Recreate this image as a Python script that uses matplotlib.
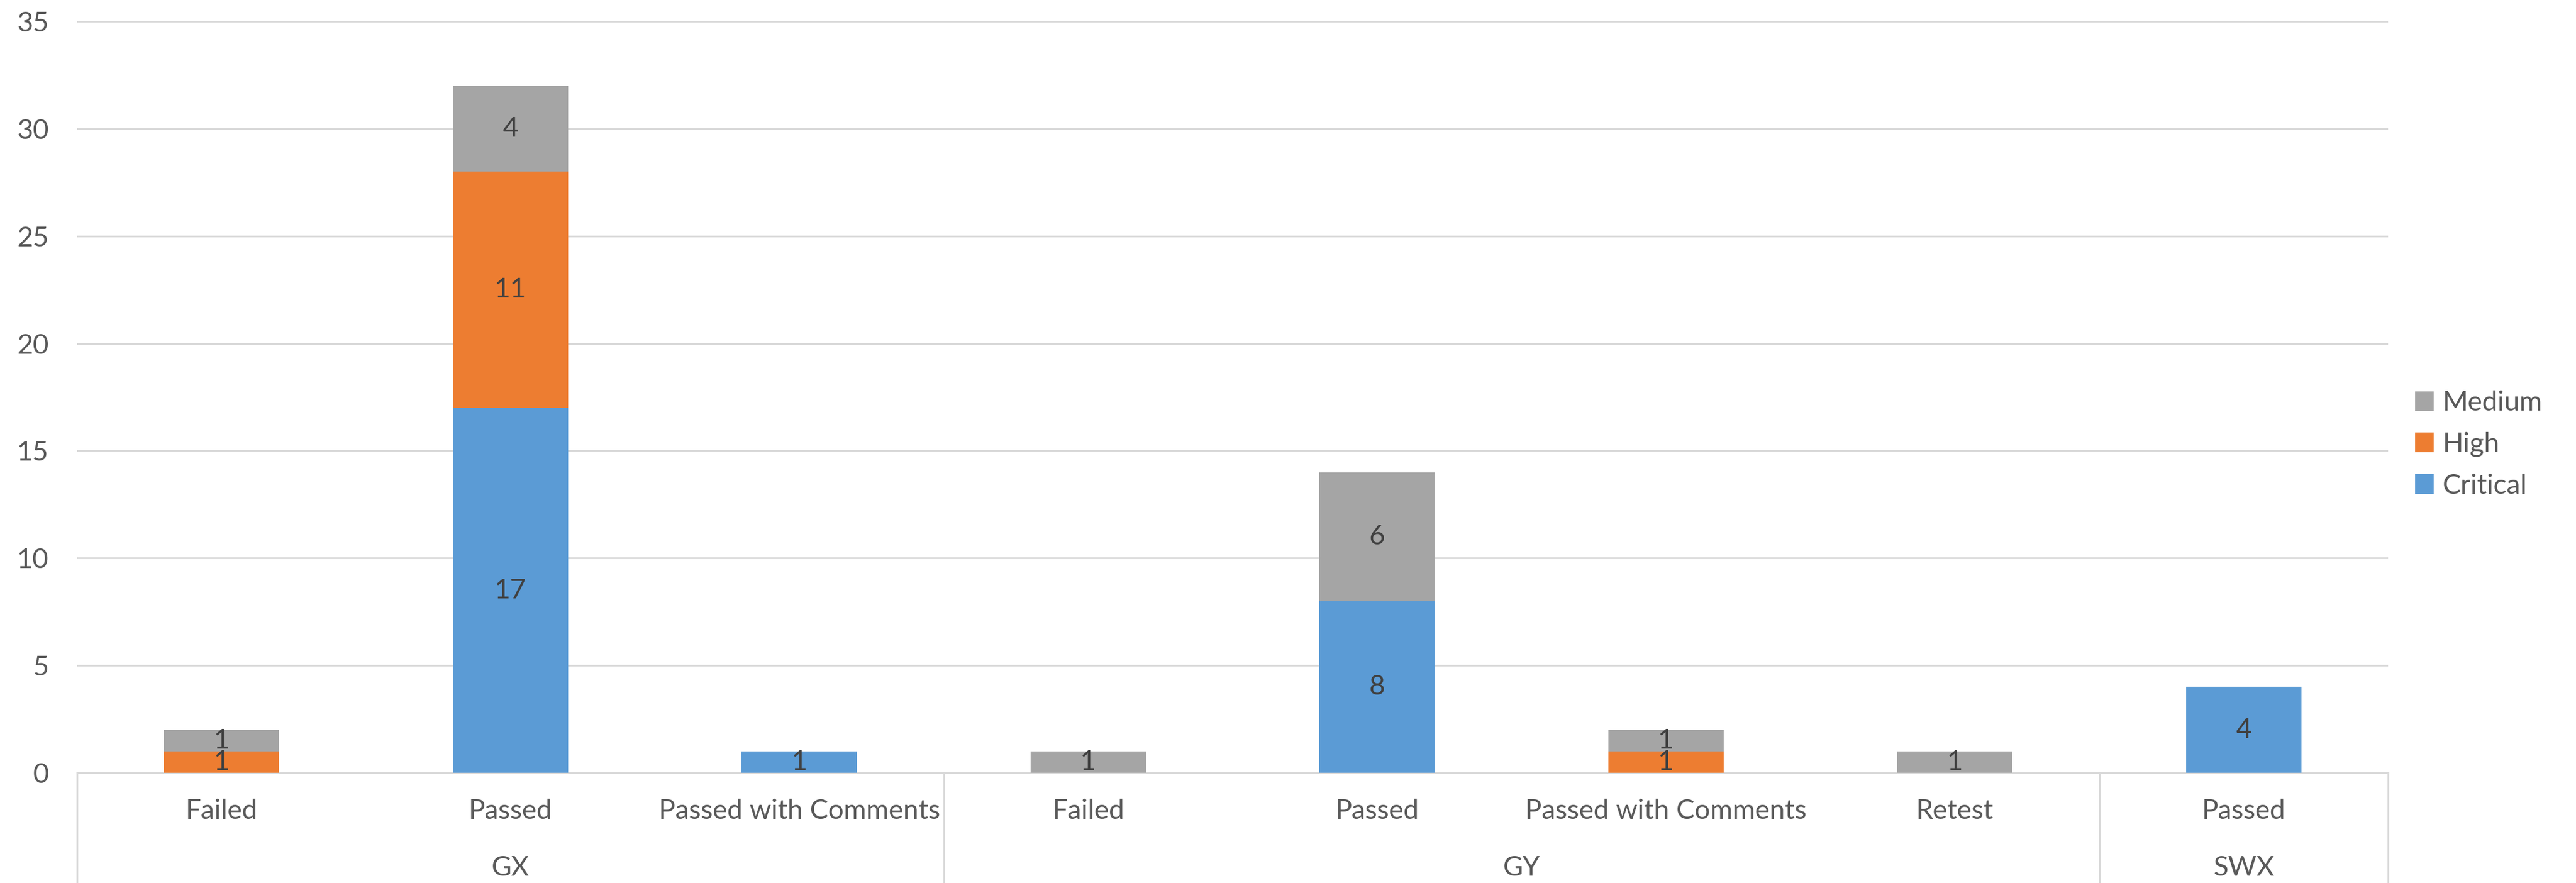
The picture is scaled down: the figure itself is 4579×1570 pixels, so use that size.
import matplotlib
matplotlib.use("Agg")
import matplotlib.pyplot as plt
import matplotlib.patches as mpatches
import numpy as np

plt.rcParams['font.family'] = ['Lato', 'DejaVu Sans']

groups = ["GX", "GY", "SWX"]
group_sizes = [3, 4, 1]
categories = ["Failed", "Passed", "Passed with Comments",
              "Failed", "Passed", "Passed with Comments", "Retest",
              "Passed"]
critical = [0, 17, 1, 0, 8, 0, 0, 4]
high = [1, 11, 0, 0, 0, 1, 0, 0]
medium = [1, 4, 0, 1, 6, 1, 1, 0]
series_names = ["Critical", "High", "Medium"]
series_colors = ["#5B9BD5", "#ED7D31", "#A5A5A5"]
yticks = [0, 5, 10, 15, 20, 25, 30, 35]

W, H, DPI = 4579, 1570, 300
fig = plt.figure(figsize=(W / DPI, H / DPI), dpi=DPI)
ax_left, ax_right = 137 / W, 4245 / W
ax_bottom, ax_top = (H - 1374) / H, (H - 38) / H
ax = fig.add_axes([ax_left, ax_bottom, ax_right - ax_left, ax_top - ax_bottom])

x = np.arange(len(categories))
bottom = np.zeros(len(categories))
fs = 11.7
for vals, name, col in zip([critical, high, medium], series_names, series_colors):
    vals = np.array(vals, dtype=float)
    ax.bar(x, vals, width=0.4, bottom=bottom, color=col, label=name, zorder=3)
    for xi, v, b in zip(x, vals, bottom):
        if v > 0:
            ax.text(xi, b + v / 2, f"{int(v)}", ha="center", va="center",
                    fontsize=fs, color="#404040", zorder=4)
    bottom += vals

ax.set_xlim(-0.5, len(categories) - 0.5)
ax.set_ylim(0, 35)
ax.set_yticks(yticks)
ax.set_yticklabels([str(t) for t in yticks])
ax.tick_params(axis="y", length=0, pad=12, labelsize=fs, labelcolor="#595959")
ax.set_xticks([])
ax.grid(axis="y", color="#D9D9D9", linewidth=0.75, zorder=0)
for s in ["top", "right", "left"]:
    ax.spines[s].set_visible(False)
ax.spines["bottom"].set_color("#D9D9D9")
ax.spines["bottom"].set_linewidth(0.75)

plot_h = 1374 - 38
trans = ax.get_xaxis_transform()
cat_y = (1374 - 1442) / plot_h
grp_y = (1374 - 1543) / plot_h
bot_y = (1374 - 1570) / plot_h
for xi, lab in zip(x, categories):
    ax.text(xi, cat_y, lab, transform=trans, ha="center", va="center",
            fontsize=fs, color="#595959", clip_on=False)

start = 0
bounds = [-0.5]
for g, n in zip(groups, group_sizes):
    center = start + (n - 1) / 2
    ax.text(center, grp_y, g, transform=trans, ha="center", va="center",
            fontsize=fs, color="#595959", clip_on=False)
    start += n
    bounds.append(start - 0.5)
for b in bounds:
    ax.plot([b, b], [0, bot_y], transform=trans, color="#D9D9D9",
            linewidth=0.75, clip_on=False, zorder=1)

handles = [mpatches.Patch(color=c, label=n) for n, c in zip(series_names, series_colors)][::-1]
fig.legend(handles=handles, loc="center left", bbox_to_anchor=(4295 / W, 1 - 790 / H),
           frameon=False, fontsize=fs, labelcolor="#595959",
           handlelength=0.6, handleheight=0.6, handletextpad=0.35,
           labelspacing=0.6, borderpad=0, borderaxespad=0)

fig.savefig("out.png", dpi=DPI)
